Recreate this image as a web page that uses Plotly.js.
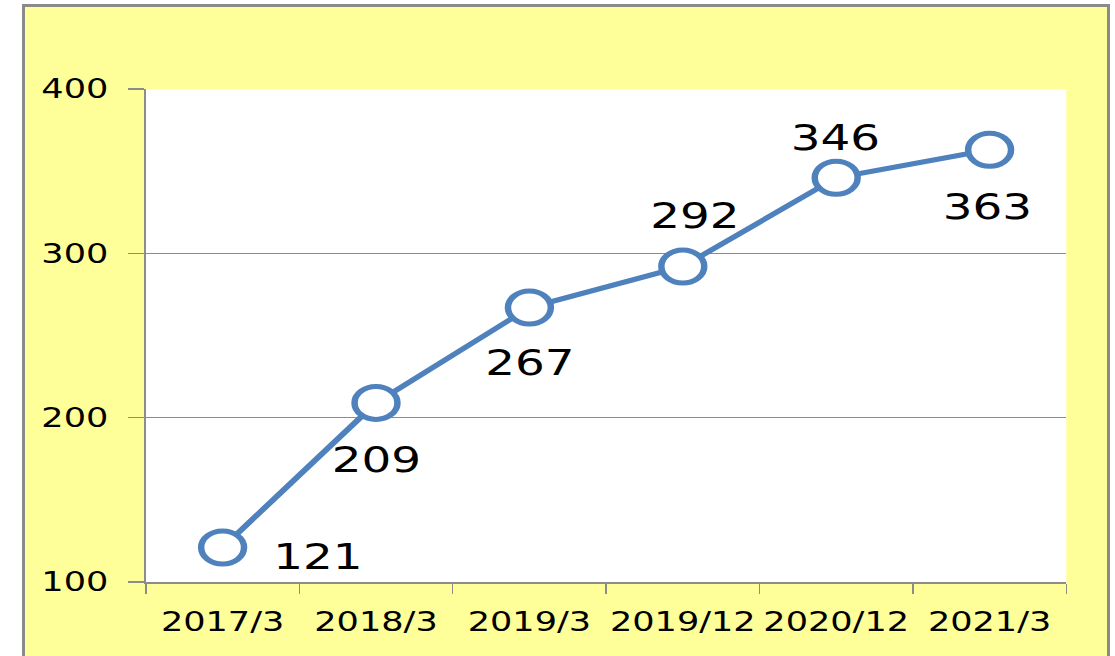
<!DOCTYPE html>
<html>
<head>
<meta charset="utf-8">
<script src="https://cdn.plot.ly/plotly-3.0.1.min.js"></script>
<style>
  html, body { margin: 0; padding: 0; background: #ffffff; overflow: hidden; }
  #frame { position: absolute; left: 22px; top: 4px; width: 1082px; height: 652px;
           border: 3px solid #8a8a8a; background: #FFFF99; overflow: hidden; }
  #chart { width: 832.3px; height: 649px; transform: scaleX(1.3); transform-origin: 0 0; }
</style>
</head>
<body>
<div id="frame"><div id="chart"></div></div>
<script>
// Data
const categories = ["2017/3", "2018/3", "2019/3", "2019/12", "2020/12", "2021/3"];
const values = [121, 209, 267, 292, 346, 363];
const yTicks = [100, 200, 300, 400];

// Label placement offsets (pixels, before horizontal stretch) relative to each point
const labelDx = [73, 0, 0, 9, -1, -2];
const labelDy = [-9, -57, -55, 51, 40, -57];

const lineColor = "#4F81BD";
const gridColor = "#8c8c8c";
const fontFamily = "DejaVu Sans, Verdana, sans-serif";

const trace = {
  type: "scatter",
  mode: "lines+markers",
  x: categories,
  y: values,
  line: { color: lineColor, width: 5 },
  marker: { symbol: "circle", size: 33, color: "#ffffff", line: { color: lineColor, width: 5 } },
  hoverinfo: "x+y",
  cliponaxis: false
};

const annotations = values.map((v, i) => ({
  x: categories[i],
  y: v,
  xref: "x",
  yref: "y",
  text: String(v),
  showarrow: false,
  xshift: labelDx[i],
  yshift: labelDy[i],
  font: { family: fontFamily, size: 36, color: "#000000" }
}));

const layout = {
  width: 832.3,
  height: 649,
  margin: { l: 93.1, r: 30.8, t: 82, b: 74, pad: 0 },
  paper_bgcolor: "#FFFF99",
  plot_bgcolor: "#ffffff",
  showlegend: false,
  font: { family: fontFamily, color: "#000000" },
  xaxis: {
    type: "category",
    range: [-0.5, categories.length - 0.5],
    tickson: "boundaries",
    ticks: "outside",
    ticklen: 10,
    tickwidth: 1.2,
    tickcolor: gridColor,
    showline: true,
    linecolor: gridColor,
    linewidth: 1.5,
    showgrid: false,
    zeroline: false,
    tickangle: 0,
    automargin: false,
    ticklabelstandoff: 15,
    tickfont: { family: fontFamily, size: 27, color: "#000000" },
    fixedrange: true
  },
  yaxis: {
    range: [100, 400],
    tickvals: yTicks,
    ticktext: yTicks.map(String),
    ticks: "outside",
    ticklen: 12.3,
    tickwidth: 1.5,
    tickcolor: gridColor,
    showline: true,
    linecolor: gridColor,
    linewidth: 1.2,
    showgrid: true,
    gridcolor: gridColor,
    gridwidth: 1.2,
    zeroline: false,
    automargin: false,
    ticklabelstandoff: 10,
    tickfont: { family: fontFamily, size: 27, color: "#000000" },
    fixedrange: true
  },
  annotations: annotations
};

Plotly.newPlot("chart", [trace], layout, { displayModeBar: false, staticPlot: true });
</script>
</body>
</html>
